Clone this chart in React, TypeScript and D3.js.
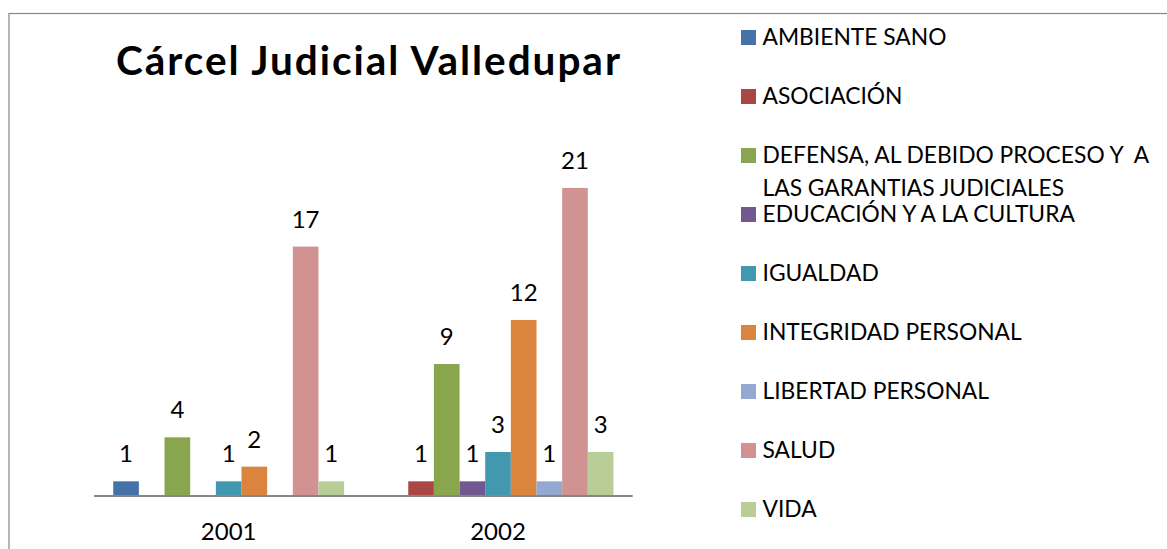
import React from "react";
import * as d3 from "d3";

const categories = ["2001", "2002"];
const seriesNames = [
  "AMBIENTE SANO",
  "ASOCIACIÓN",
  "DEFENSA, AL DEBIDO PROCESO Y  A LAS GARANTIAS JUDICIALES",
  "EDUCACIÓN Y A LA CULTURA",
  "IGUALDAD",
  "INTEGRIDAD PERSONAL",
  "LIBERTAD PERSONAL",
  "SALUD",
  "VIDA",
];
const legendLines = [
  ["AMBIENTE SANO"],
  ["ASOCIACIÓN"],
  ["DEFENSA, AL DEBIDO PROCESO Y  A", "LAS GARANTIAS JUDICIALES"],
  ["EDUCACIÓN Y A LA CULTURA"],
  ["IGUALDAD"],
  ["INTEGRIDAD PERSONAL"],
  ["LIBERTAD PERSONAL"],
  ["SALUD"],
  ["VIDA"],
];
const ambienteSano = [1, null];
const asociacion = [null, 1];
const defensa = [4, 9];
const educacion = [null, 1];
const igualdad = [1, 3];
const integridad = [2, 12];
const libertad = [null, 1];
const salud = [17, 21];
const vida = [1, 3];
const seriesValues = [ambienteSano, asociacion, defensa, educacion, igualdad, integridad, libertad, salud, vida];
const colors = ["#4572A7", "#AA4643", "#89A54E", "#71588F", "#4198AF", "#DB843D", "#93A9CF", "#D19392", "#B9CD96"];

const W = 1167;
const H = 549;
const FONT = "Lato, 'Open Sans', sans-serif";

export default function App() {
  const axisY = 496;
  const x0 = d3.scaleBand<string>().domain(categories).range([94, 632.7]).padding(0);
  const bw = x0.bandwidth();
  const groupW = (bw * 9) / 10.5;
  const x1 = d3.scaleBand<string>().domain(seriesNames).range([0, groupW]).padding(0);
  const y = d3.scaleLinear().domain([0, 25]).range([axisY, axisY - 25 * 14.67]);

  const legendY = d3.scaleLinear().domain([0, 8]).range([37.5, 509.5]);

  return (
    <svg width={W} height={H} style={{ position: "absolute", left: 0, top: 0, background: "#fff" }}>
      <rect x={9} y={13.5} width={W + 20} height={H + 20} fill="#fff" stroke="#878787" strokeWidth={1.2} />
      <text x={116} y={75} fontFamily={FONT} fontWeight="bold" fontSize={40.5} fill="#000" textLength={504} lengthAdjust="spacing">
        Cárcel Judicial Valledupar
      </text>
      {categories.map((c, ci) => (
        <g key={c}>
          {seriesNames.map((s, si) => {
            const v = seriesValues[si][ci];
            if (v == null) return null;
            const bx = (x0(c) as number) + (bw - groupW) / 2 + (x1(s) as number);
            const w = x1.bandwidth();
            return (
              <g key={s}>
                <rect x={bx} y={y(v)} width={w} height={axisY - y(v)} fill={colors[si]} />
                <text x={bx + w / 2} y={y(v) - 19} textAnchor="middle" fontFamily={FONT} fontSize={24} fill="#000">
                  {v}
                </text>
              </g>
            );
          })}
          <text x={(x0(c) as number) + bw / 2} y={540} textAnchor="middle" fontFamily={FONT} fontSize={24} fill="#000">
            {c}
          </text>
        </g>
      ))}
      <line x1={94} x2={632.7} y1={axisY} y2={axisY} stroke="#868686" strokeWidth={2} />
      {legendLines.map((lines, i) => {
        const cy = legendY(i);
        return (
          <g key={i}>
            <rect x={741} y={cy - 7.5} width={15} height={15} fill={colors[i]} />
            {lines.map((ln, li) => (
              <text key={li} x={762.5} y={cy + 7.5 + li * 33} fontFamily={FONT} fontSize={22.8} fill="#000" style={{ whiteSpace: "pre" }}>
                {ln}
              </text>
            ))}
          </g>
        );
      })}
    </svg>
  );
}
